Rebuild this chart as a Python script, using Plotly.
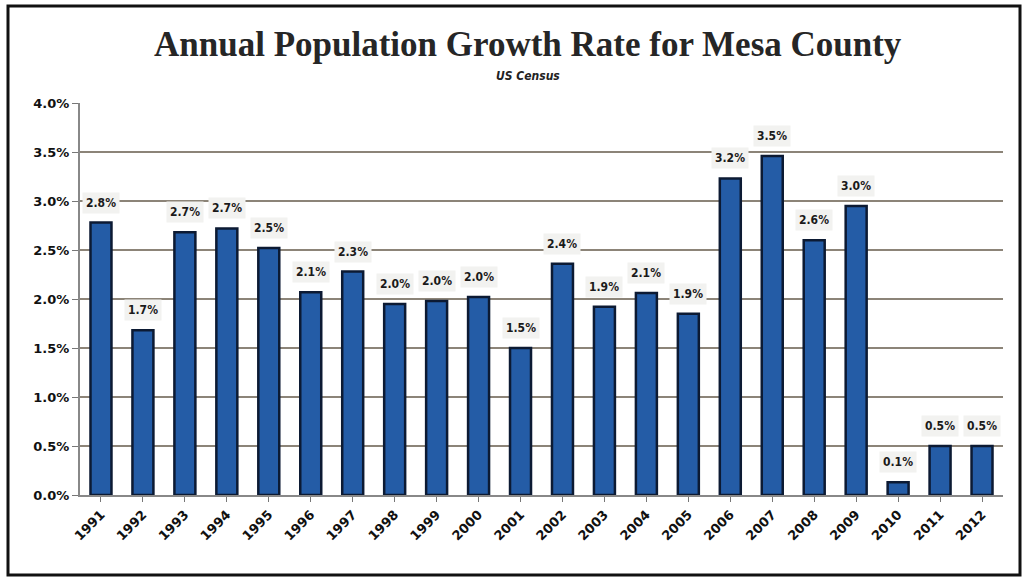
import plotly.graph_objects as go

years = ["1991", "1992", "1993", "1994", "1995", "1996", "1997", "1998", "1999", "2000", "2001",
         "2002", "2003", "2004", "2005", "2006", "2007", "2008", "2009", "2010", "2011", "2012"]
growth = [2.78, 1.68, 2.68, 2.72, 2.52, 2.07, 2.28, 1.95, 1.98, 2.02, 1.50,
          2.36, 1.92, 2.06, 1.85, 3.23, 3.46, 2.60, 2.95, 0.13, 0.50, 0.50]
labels = ["2.8%", "1.7%", "2.7%", "2.7%", "2.5%", "2.1%", "2.3%", "2.0%", "2.0%", "2.0%", "1.5%",
          "2.4%", "1.9%", "2.1%", "1.9%", "3.2%", "3.5%", "2.6%", "3.0%", "0.1%", "0.5%", "0.5%"]
y_ticks = [0.0, 0.5, 1.0, 1.5, 2.0, 2.5, 3.0, 3.5, 4.0]
y_tick_text = ["0.0%", "0.5%", "1.0%", "1.5%", "2.0%", "2.5%", "3.0%", "3.5%", "4.0%"]

W, H = 1027, 581
ML, MR, MT, MB = 80, 24, 103, 86
PW, PH = W - ML - MR, H - MT - MB

fig = go.Figure()
fig.add_trace(go.Bar(
    x=years, y=growth,
    marker=dict(color="#245ca6", line=dict(color="#0c1a33", width=2.5)),
    width=0.5,
    hoverinfo="x+y",
))

for i, (v, lab) in enumerate(zip(growth, labels)):
    fig.add_annotation(
        x=i, y=v, xref="x", yref="y", text="<b>" + lab + "</b>", showarrow=False,
        yanchor="bottom", yshift=9,
        font=dict(family="DejaVu Sans Condensed, DejaVu Sans", size=12, color="#1a1a1a"),
        bgcolor="#f2f2f0", borderpad=3,
    )

fig.add_annotation(
    x=(528 - ML) / PW, y=1 + (MT - 45) / PH, xref="paper", yref="paper",
    text="<b>Annual Population Growth Rate for Mesa County</b>", showarrow=False,
    xanchor="center", yanchor="middle",
    font=dict(family="Liberation Serif, serif", size=35, color="#262626"),
)
fig.add_annotation(
    x=(528 - ML) / PW, y=1 + (MT - 76) / PH, xref="paper", yref="paper",
    text="<b><i>US Census</i></b>", showarrow=False,
    xanchor="center", yanchor="middle",
    font=dict(family="DejaVu Sans Condensed, DejaVu Sans", size=12, color="#222222"),
)

fig.update_layout(
    width=W, height=H,
    paper_bgcolor="white", plot_bgcolor="white",
    margin=dict(l=ML, r=MR, t=MT, b=MB, autoexpand=False),
    showlegend=False,
    bargap=0.5,
    xaxis=dict(
        type="category", tickangle=-45, range=[-0.5, len(years) - 0.5],
        tickfont=dict(family="DejaVu Sans", size=13, color="#111111", weight="bold"),
        ticks="outside", ticklen=5, tickcolor="#777777",
        showline=True, linecolor="#888888", linewidth=2,
        showgrid=False,
    ),
    yaxis=dict(
        range=[0, 4.0], tickvals=y_ticks, ticktext=y_tick_text,
        tickfont=dict(family="DejaVu Sans", size=13, color="#111111", weight="bold"),
        ticks="outside", ticklen=6, tickcolor="#777777",
        showline=True, linecolor="#888888", linewidth=2,
        showgrid=True, gridcolor="#8c8478", gridwidth=2,
        zeroline=False,
    ),
    shapes=[dict(
        type="rect", xref="paper", yref="paper",
        x0=-(ML - 8) / PW, x1=1 + (MR - 7) / PW, y0=-(MB - 6) / PH, y1=1 + (MT - 6) / PH,
        line=dict(color="#111111", width=3), fillcolor="rgba(0,0,0,0)", layer="below",
    )],
)

fig.write_html("out.html", config={"displayModeBar": False},
               post_script="document.body.style.margin='0';document.body.style.overflow='hidden';")
